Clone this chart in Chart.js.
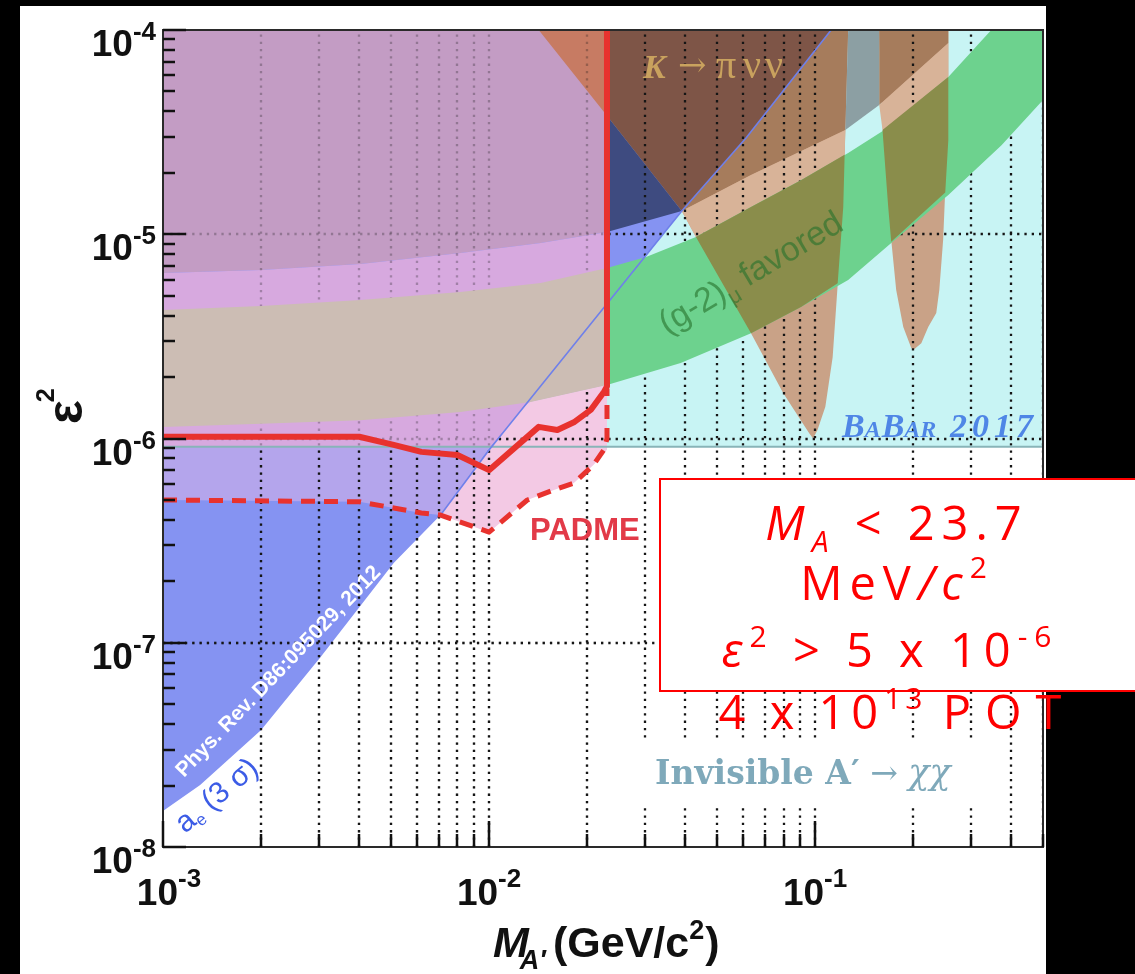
<!DOCTYPE html>
<html>
<head>
<meta charset="utf-8">
<script src="https://cdn.jsdelivr.net/npm/chart.js@4.4.0/dist/chart.umd.min.js"></script>
<style>
  html, body { margin: 0; padding: 0; background: #000; }
  #panel { position: absolute; left: 20px; top: 6px; width: 1026px; height: 968px; background: #fff; }
  #wrap { position: absolute; left: 0; top: 0; width: 1135px; height: 974px; }
</style>
</head>
<body>
<div id="panel"></div>
<div id="wrap"><canvas id="graph" width="1135" height="974"></canvas></div>
<script>
// axis ranges: M_A' in GeV/c^2, epsilon^2
const massRange = [1e-3, 0.5];
const eps2Range = [1e-8, 1e-4];
const xLabelDecades = [-3, -2, -1];
const yLabelDecades = [-8, -7, -6, -5, -4];

// BaBar 2017 invisible search
const babarRegion = [[0.023, 9.1e-7], [0.5, 9.1e-7], [0.5, 1e-4], [0.023, 1e-4]];
const babarLimit = [[1e-3, 9.1e-7], [0.5, 9.1e-7]];

// a_e (3 sigma) excluded
const aeEdge = [[7.1e-3, 4.22e-7], [1e-2, 8.78e-7], [0.0231, 4.61e-6], [0.039, 1.3e-5], [0.0614, 2.96e-5], [0.112, 1e-4]];
const aeRegion = [[1e-3, 1e-4], [1e-3, 1.5e-8], [1.3e-3, 2.01e-8], [2e-3, 3.74e-8], [3.04e-3, 8.5e-8], [5.1e-3, 2.46e-7]].concat(aeEdge);

// K -> pi nu nu and the two dips
const spikeLow = [[0.0142, 1e-4], [0.039, 1.3e-5], [0.0431, 9.69e-6], [0.0636, 3.28e-6], [0.0798, 1.67e-6], [0.0958, 1.064e-6],
  [0.0986, 1.0e-6], [0.1017, 1.1e-6], [0.1075, 1.43e-6], [0.1132, 2.5e-6], [0.117, 5.35e-6], [0.122, 1.36e-5], [0.1236, 2.89e-5], [0.1263, 1e-4]];
const spikeHigh = [[0.1573, 1e-4], [0.1618, 2.89e-5], [0.1676, 1.36e-5], [0.1712, 9.37e-6], [0.1773, 5.33e-6], [0.1864, 3.51e-6],
  [0.1972, 2.77e-6], [0.2, 2.71e-6], [0.2117, 2.93e-6], [0.2223, 3.51e-6], [0.2353, 4.12e-6], [0.2404, 5.33e-6], [0.247, 9.37e-6],
  [0.2507, 1.65e-5], [0.2562, 2.89e-5], [0.2562, 1e-4]];

// (g-2)_mu favored band
const g2Upper = [[0.023, 6.84e-6], [0.0303, 7.74e-6], [0.0431, 9.69e-6], [0.0636, 1.36e-5], [0.0905, 1.84e-5], [0.1263, 2.5e-5],
  [0.163, 3.24e-5], [0.2562, 5.89e-5], [0.347, 1e-4], [0.5, 1e-4]];
const g2Lower = [[0.023, 1.83e-6], [0.0387, 2.34e-6], [0.0636, 3.28e-6], [0.0905, 4.4e-6], [0.1263, 5.97e-6], [0.1712, 9.06e-6],
  [0.2562, 1.556e-5], [0.373, 2.73e-5], [0.5, 4.54e-5]];
const olive1 = [[0.0431, 9.69e-6], [0.0636, 1.36e-5], [0.0905, 1.84e-5], [0.1232, 2.45e-5], [0.122, 1.36e-5], [0.1173, 5.75e-6], [0.0905, 4.4e-6], [0.0636, 3.28e-6]];
const olive2 = [[0.161, 3.24e-5], [0.2562, 5.89e-5], [0.2562, 2.89e-5], [0.2507, 1.6e-5], [0.1712, 9.2e-6], [0.1676, 1.36e-5], [0.1618, 2.89e-5]];

// overlay patches above the bands, right of 23.7 MeV
const navy = [[0.023, 3.8e-5], [0.039, 1.3e-5], [0.023, 1.026e-5]];
const darkBrown = [[0.023, 1e-4], [0.023, 3.8e-5], [0.039, 1.3e-5], [0.0614, 2.96e-5], [0.112, 1e-4]];
const medBrown1 = [[0.039, 1.3e-5], [0.0636, 1.95e-5], [0.1238, 3.24e-5], [0.1263, 1e-4], [0.112, 1e-4], [0.0614, 2.96e-5]];
const greyBlue = [[0.1263, 1e-4], [0.1238, 3.24e-5], [0.1573, 4.29e-5], [0.1573, 1e-4]];
const medBrown2 = [[0.1573, 1e-4], [0.1573, 4.29e-5], [0.2562, 8.63e-5], [0.2562, 1e-4]];
const peach1 = [[0.039, 1.3e-5], [0.0636, 1.95e-5], [0.1238, 3.24e-5], [0.1232, 2.45e-5], [0.0905, 1.84e-5], [0.0636, 1.36e-5], [0.0431, 9.69e-6]];
const peach2 = [[0.1573, 4.29e-5], [0.2562, 8.63e-5], [0.2562, 5.89e-5], [0.161, 3.24e-5]];

// band edges left of 23.7 MeV
const b1Left = [[1e-3, 6.46e-6], [2e-3, 6.68e-6], [4.03e-3, 7.15e-6], [8.17e-3, 8.09e-6], [1.44e-2, 9.06e-6], [0.023, 1.026e-5]];
const b2Left = [[1e-3, 4.26e-6], [2e-3, 4.45e-6], [4.03e-3, 4.76e-6], [8.17e-3, 5.22e-6], [1.44e-2, 5.77e-6], [0.023, 6.84e-6]];
const b3Left = [[1e-3, 1.14e-6], [2e-3, 1.18e-6], [4.03e-3, 1.23e-6], [8.17e-3, 1.35e-6], [1.34e-2, 1.51e-6], [0.023, 1.83e-6]];

// PADME sensitivity
const padmeSolid = [[1e-3, 1.02e-6], [4.0e-3, 1.02e-6], [5.1e-3, 9.3e-7], [6.2e-3, 8.6e-7], [8.0e-3, 8.3e-7], [1.0e-2, 7.0e-7],
  [1.42e-2, 1.14e-6], [1.62e-2, 1.10e-6], [1.82e-2, 1.20e-6], [2.05e-2, 1.38e-6], [2.25e-2, 1.69e-6], [0.023, 1.8e-6], [0.023, 1e-4]];
const padmeDashed = [[1e-3, 5.0e-7], [4.0e-3, 4.9e-7], [5.1e-3, 4.57e-7], [6.2e-3, 4.32e-7], [7.1e-3, 4.22e-7], [1.0e-2, 3.48e-7],
  [1.31e-2, 5.0e-7], [1.58e-2, 5.6e-7], [1.82e-2, 6.05e-7], [2.09e-2, 7.42e-7], [2.25e-2, 8.8e-7], [0.023, 1.0e-6], [0.023, 1.75e-6]];

const rev = a => a.slice().reverse();
const mauve = [[1e-3, 1e-4], [0.023, 1e-4]].concat(rev(b1Left));
const orangeTri = [[0.0142, 1e-4], [0.023, 1e-4], [0.023, 3.8e-5]];
const lavender = b1Left.concat([[0.023, 1.83e-6], [0.0134, 1.51e-6], [0.013, 1.46e-6], [0.0101, 9.1e-7], [1e-3, 9.1e-7]]);
const pink = [[0.013, 1.46e-6], [0.0134, 1.51e-6], [0.023, 1.83e-6], [0.023, 8.8e-7]].concat(rev(padmeDashed.slice(4, 10)), [[0.01, 8.78e-7]]);
const blueLav = [[1e-3, 9.1e-7], [0.0101, 9.1e-7]].concat(rev(padmeDashed.slice(0, 5)));
const beige = b2Left.concat(rev(b3Left));
const g2Band = g2Upper.concat(rev(g2Lower));

const layers = [
  [babarRegion, '#c8f4f4'], [aeRegion, '#8593f2'], [spikeLow, '#c9a287'], [spikeHigh, '#c9a287'],
  [darkBrown, '#7e5547'], [navy, '#3e4b80'], [medBrown1, '#a67c5c'], [greyBlue, '#8c9fa3'], [medBrown2, '#a67c5c'],
  [peach1, '#d8b398'], [peach2, '#d8b398'], [pink, '#f3c9e4'], [blueLav, '#b4a5ec', 'grid'],
  [g2Band, '#6dd28e'], [olive1, '#8a8d4b'], [olive2, '#8a8d4b'],
  [mauve, '#c39cc4'], [orangeTri, '#c77b63'], [lavender, '#d7a9df', 'faint'], [beige, '#ccbdb4']
];
const curves = [
  [babarLimit, '#88b4b8', 2, []], [aeEdge, '#6f80ea', 1.6, []],
  [padmeDashed, '#e8322e', 5, [14, 9]], [padmeSolid, '#e8322e', 6, []]
];

const toXY = a => a.map(p => ({ x: p[0], y: p[1] }));
const datasets = [];
layers.forEach(l => datasets.push({
  data: toXY(l[0]), showLine: true, fill: 'shape', backgroundColor: l[1], borderColor: 'rgba(0,0,0,0)',
  borderWidth: 0, pointRadius: 0, gridAfter: l[2]
}));
curves.forEach(c => datasets.push({
  data: toXY(c[0]), showLine: true, fill: false, borderColor: c[1], borderWidth: c[2], borderDash: c[3],
  borderJoinStyle: 'round', pointRadius: 0
}));
datasets.forEach((d, i) => { d.order = datasets.length - i; });

// grid values
const xGrid = [], yMinor = [];
xLabelDecades.forEach(d => { for (let m = 2; m <= 10; m++) { const v = m * Math.pow(10, d); if (v <= massRange[1] * 1.0001) xGrid.push(v); } });
for (let d = -8; d < -4; d++) for (let m = 2; m <= 9; m++) yMinor.push(m * Math.pow(10, d));

function drawGrid(chart, alpha, xClip) {
  const { ctx, chartArea: a, scales: { x, y } } = chart;
  ctx.save();
  const right = xClip ? x.getPixelForValue(xClip) : a.right;
  ctx.beginPath(); ctx.rect(a.left, a.top, right - a.left, a.bottom - a.top); ctx.clip();
  ctx.globalAlpha = alpha;
  ctx.strokeStyle = '#151515'; ctx.lineWidth = 2.3; ctx.setLineDash([2.3, 5]);
  xGrid.forEach(v => {
    const px = Math.round(x.getPixelForValue(v));
    ctx.beginPath(); ctx.moveTo(px, a.bottom); ctx.lineTo(px, a.top); ctx.stroke();
  });
  [-7, -6, -5].forEach(d => {
    const py = Math.round(y.getPixelForValue(Math.pow(10, d)));
    ctx.beginPath(); ctx.moveTo(a.left, py); ctx.lineTo(a.right, py); ctx.stroke();
  });
  ctx.restore();
}

function runs(ctx, parts, x, y, align, color) {
  let total = 0;
  parts.forEach(p => { ctx.font = p[1]; for (const ch of p[0]) total += ctx.measureText(ch).width + (p[3] || 0); });
  let cx = align === 'center' ? x - total / 2 : align === 'right' ? x - total : x;
  ctx.fillStyle = color; ctx.textAlign = 'left'; ctx.textBaseline = 'alphabetic';
  parts.forEach(p => {
    ctx.font = p[1];
    for (const ch of p[0]) { ctx.fillText(ch, cx, y + (p[2] || 0)); cx += ctx.measureText(ch).width + (p[3] || 0); }
  });
  return total;
}

const SANS = '"Liberation Sans", Arial, sans-serif';
const BOX = '"Open Sans", "Noto Sans", sans-serif';
const SERIF = '"DejaVu Serif", serif';
const TIMES = '"Liberation Serif", "DejaVu Serif", serif';

const overlay = {
  id: 'overlay',
  afterDatasetDraw(chart, args) {
    const ds = chart.data.datasets[args.index];
    if (ds.gridAfter === 'grid') drawGrid(chart, 1, null);
    if (ds.gridAfter === 'faint') drawGrid(chart, 0.28, 0.023);
  },
  afterDraw(chart) {
    const { ctx, chartArea: a, scales: { x, y } } = chart;
    ctx.save();

    // in-plot labels
    ctx.fillStyle = '#c9a25e'; ctx.textAlign = 'left';
    ctx.font = 'bold italic 34px ' + TIMES; ctx.fillText('K', 643, 78);
    ctx.font = '34px ' + SERIF; ctx.fillText('\u2192', 678, 76);
    ctx.font = '40px ' + TIMES;
    ctx.fillText('\u03c0', 716, 78); ctx.fillText('\u03bd', 743, 78); ctx.fillText('\u03bd', 765, 78);

    ctx.save(); ctx.translate(667, 335); ctx.rotate(-30.7 * Math.PI / 180);
    runs(ctx, [['(g-2)', '34px ' + SANS], ['\u03bc', '22px ' + SANS, 8], [' favored', '34px ' + SANS]], 0, 0, 'left', 'rgba(40,115,45,0.62)');
    ctx.restore();

    const bb = '#4f86e6';
    runs(ctx, [['B', 'italic bold 34px ' + TIMES], ['A', 'italic bold 24px ' + TIMES, 0, 1],
      ['B', 'italic bold 34px ' + TIMES], ['AR', 'italic bold 24px ' + TIMES],
      [' 2017', 'italic bold 34px ' + TIMES, 0, 5]], 842, 437, 'left', bb);

    ctx.font = 'bold 31px ' + SANS; ctx.fillStyle = '#e23a48'; ctx.fillText('PADME', 530, 540);

    ctx.save(); ctx.translate(184, 778); ctx.rotate(-46 * Math.PI / 180);
    ctx.font = 'bold 21px ' + SANS; ctx.fillStyle = '#ffffff'; ctx.fillText('Phys. Rev. D86:095029, 2012', 0, 0);
    ctx.restore();
    ctx.save(); ctx.translate(185, 834); ctx.rotate(-40 * Math.PI / 180);
    runs(ctx, [['a', '30px ' + SANS], ['e', '17px ' + SANS, 5], [' (3 \u03c3)', '30px ' + SANS]], 0, 0, 'left', '#3c5ce6');
    ctx.restore();

    // frame
    ctx.strokeStyle = '#2a2a2a'; ctx.lineWidth = 2; ctx.setLineDash([]);
    ctx.strokeRect(a.left, a.top, a.right - a.left, a.bottom - a.top);

    // inward ticks
    ctx.strokeStyle = '#111'; ctx.lineWidth = 2.5;
    xGrid.concat([massRange[0]]).forEach(v => {
      const px = Math.round(x.getPixelForValue(v));
      const major = Math.abs(Math.log10(v) - Math.round(Math.log10(v))) < 1e-6;
      ctx.beginPath(); ctx.moveTo(px, a.bottom); ctx.lineTo(px, a.bottom - (major ? 26 : 13)); ctx.stroke();
    });
    yMinor.forEach(v => {
      const py = Math.round(y.getPixelForValue(v));
      ctx.beginPath(); ctx.moveTo(a.left, py); ctx.lineTo(a.left + 12, py); ctx.stroke();
    });
    yLabelDecades.forEach(d => {
      const py = Math.round(y.getPixelForValue(Math.pow(10, d)));
      ctx.beginPath(); ctx.moveTo(a.left, py); ctx.lineTo(a.left + 23, py); ctx.stroke();
    });

    // tick labels
    yLabelDecades.forEach(d => {
      const py = y.getPixelForValue(Math.pow(10, d));
      ctx.font = 'bold 26px ' + SANS;
      const sw = ctx.measureText(String(d)).width;
      runs(ctx, [[String(d), 'bold 26px ' + SANS]], 156, py + 10, 'right', '#111');
      runs(ctx, [['10', 'bold 37px ' + SANS]], 156 - sw, py + 26, 'right', '#111');
    });
    xLabelDecades.forEach((d, i) => {
      const px = x.getPixelForValue(Math.pow(10, d)) + (i === 0 ? 6 : 0);
      ctx.font = 'bold 37px ' + SANS; const w1 = ctx.measureText('10').width;
      ctx.font = 'bold 26px ' + SANS; const w2 = ctx.measureText(String(d)).width;
      const left = px - (w1 + w2) / 2;
      runs(ctx, [['10', 'bold 37px ' + SANS]], left, 905, 'left', '#111');
      runs(ctx, [[String(d), 'bold 26px ' + SANS]], left + w1, 887, 'left', '#111');
    });

    // axis titles
    ctx.save(); ctx.translate(82, 424); ctx.rotate(-Math.PI / 2);
    ctx.fillStyle = '#111'; ctx.font = 'bold 50px ' + SANS; ctx.fillText('\u03b5', 0, 0);
    const we = ctx.measureText('\u03b5').width;
    ctx.font = 'bold 25px ' + SANS; ctx.fillText('2', we - 2, -28);
    ctx.restore();

    ctx.fillStyle = '#111';
    ctx.font = 'bold italic 43px ' + SANS; ctx.fillText('M', 493, 957);
    const wm = ctx.measureText('M').width;
    ctx.font = 'bold italic 27px ' + SANS; ctx.fillText('A\u2032', 493 + wm - 9, 969);
    const tl = runs(ctx, [['(GeV/c', 'bold 43px ' + SANS]], 553, 957, 'left', '#111');
    const t2 = runs(ctx, [['2', 'bold 27px ' + SANS]], 553 + tl, 939, 'left', '#111');
    runs(ctx, [[')', 'bold 43px ' + SANS]], 553 + tl + t2 + 1, 957, 'left', '#111');

    // PADME reach box
    ctx.fillStyle = '#ffffff'; ctx.fillRect(659, 478, 490, 214);
    ctx.strokeStyle = '#ff0000'; ctx.lineWidth = 2; ctx.strokeRect(660, 479, 490, 212);
    const red = '#ff0000', s = 7;
    runs(ctx, [['M', 'italic 47px ' + BOX, 0, s], ['A', 'italic 30px ' + BOX, 12, s], [' < 23.7', '47px ' + BOX, 0, s]], 897, 540, 'center', red);
    runs(ctx, [['MeV', '47px ' + BOX, 0, s], ['/c', 'italic 47px ' + BOX, 0, s], ['2', '30px ' + BOX, -22, s]], 897, 600, 'center', red);
    runs(ctx, [['\u03b5', 'italic 47px ' + BOX, 0, s], ['2', '30px ' + BOX, -20, s], [' > 5 x 10', '47px ' + BOX, 0, s], ['-6', '30px ' + BOX, -20, s]], 890, 667, 'center', red);
    runs(ctx, [['4 x 10', '47px ' + BOX, 0, 6], ['13', '30px ' + BOX, -20, 4], [' ', '47px ' + BOX, 0, 4], ['POT', '47px ' + BOX, 0, 14]], 897, 729, 'center', red);

    // invisible decay label
    ctx.fillStyle = '#ffffff'; ctx.fillRect(640, 740, 362, 68);
    runs(ctx, [['Invisible A\u2032', 'bold 33px ' + SERIF], [' \u2192 ', '33px ' + SERIF], ['\u03c7\u03c7', 'italic 35px ' + SERIF]], 655, 784, 'left', '#7fa9ba');

    ctx.restore();
  }
};

new Chart(document.getElementById('graph'), {
  type: 'scatter',
  data: { datasets: datasets },
  options: {
    responsive: false,
    animation: false,
    layout: { padding: { left: 163, top: 30, right: 92, bottom: 127 } },
    scales: {
      x: { type: 'logarithmic', min: massRange[0], max: massRange[1], display: false },
      y: { type: 'logarithmic', min: eps2Range[0], max: eps2Range[1], display: false }
    },
    elements: { line: { tension: 0 }, point: { radius: 0 } },
    plugins: { legend: { display: false }, tooltip: { enabled: false } }
  },
  plugins: [overlay]
});
</script>
</body>
</html>
